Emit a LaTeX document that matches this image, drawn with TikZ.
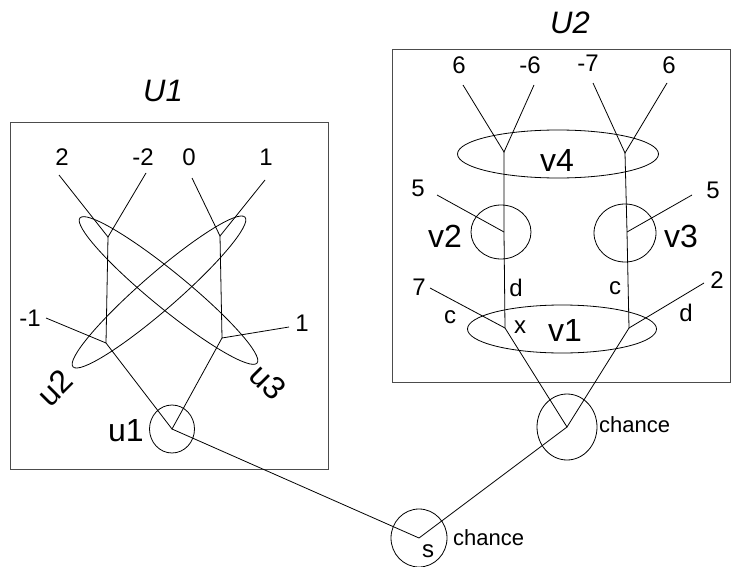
\documentclass[tikz,border=0pt]{standalone}
\usepackage{fontspec}
\setmainfont{Liberation Sans}
\usetikzlibrary{shapes.geometric}
\begin{document}
\begin{tikzpicture}[x=1pt,y=-1pt,
  ln/.style={line width=0.8pt},
  box/.style={draw=black!70, line width=1.2pt, inner sep=0pt},
  ell/.style={draw, ellipse, inner sep=0pt, line width=0.8pt},
  num/.style={font=\fontsize{24}{24}\selectfont, inner sep=0pt},
  big/.style={font=\fontsize{32}{32}\selectfont, inner sep=0pt},
  ttl/.style={font=\fontsize{31}{31}\selectfont\itshape, inner sep=0pt},
  chn/.style={font=\fontsize{22}{22}\selectfont, inner sep=0pt, anchor=west},
]
\useasboundingbox (0,0) rectangle (733,567);

% ---------- U1 ----------
\node[box, minimum width=318pt, minimum height=347pt, anchor=north west] (b1) at (10,122) {};
\node[ttl] (U1) at (163,91) {U1};

\node[num] (l2) at (62,157) {2};   \coordinate (p2) at (59,175);
\node[num] (lm2) at (143,157) {-2}; \coordinate (pm2) at (146,173);
\node[num] (l0) at (189,157) {0};  \coordinate (p0) at (192,178);
\node[num] (l1) at (266,157) {1};  \coordinate (p1) at (265,180);
\node[num] (lm1) at (30,318) {-1}; \coordinate (pm1) at (46,318);
\node[num] (l1b) at (302,323) {1}; \coordinate (p1b) at (289,327);

\coordinate (A) at (108,237);
\coordinate (B) at (220,236);
\coordinate (C) at (106,343);
\coordinate (D) at (222,338);

\node[ell, minimum width=228pt, minimum height=36pt, rotate=41] (u2) at (159,292) {};
\node[ell, minimum width=229pt, minimum height=36pt, rotate=-39.3] (u3) at (168.5,290.5) {};
\node[ell, minimum width=45pt, minimum height=48pt] (u1) at (172,429) {};

\node[big, rotate=45] (u2l) at (55,388) {u2};
\node[big, rotate=-45] (u3l) at (268,382) {u3};
\node[big] (u1l) at (126,431) {u1};

\draw[ln] (p2) -- (A) -- (pm2);
\draw[ln] (p0) -- (B) -- (p1);
\draw[ln] (A) -- (C) -- (pm1);
\draw[ln] (B) -- (D) -- (p1b);
\draw[ln] (C) -- (u1.center) -- (D);

% ---------- U2 ----------
\node[box, minimum width=338pt, minimum height=333pt, anchor=north west] (b2) at (392,49) {};
\node[ttl] (U2) at (570,23) {U2};

\node[num] (k1) at (459,65) {6};  \coordinate (q1) at (463,85);
\node[num] (k2) at (530,65) {-6}; \coordinate (q2) at (534,85);
\node[num] (k3) at (588,63) {-7}; \coordinate (q3) at (593,83);
\node[num] (k4) at (669,65) {6};  \coordinate (q4) at (667,83);

\coordinate (E) at (504,152);
\coordinate (F) at (625,153);
\coordinate (H) at (504,232);
\coordinate (I) at (627,232);
\coordinate (G) at (505,328);
\coordinate (J) at (629,328);

\node[ell, minimum width=201pt, minimum height=48pt] (v4) at (558,154) {};
\node[big] (v4l) at (557,160) {v4};
\node[ell, minimum width=60pt, minimum height=54pt] (v2) at (501,232) {};
\node[big] (v2l) at (445,236) {v2};
\node[ell, minimum width=62pt, minimum height=58pt] (v3) at (625,233) {};
\node[big] (v3l) at (681,236) {v3};
\node[ell, minimum width=189pt, minimum height=48pt] (v1) at (562,329) {};
\node[big] (v1l) at (565,330) {v1};

\node[num] (k5) at (418,188) {5}; \coordinate (q5) at (437,195);
\node[num] (k6) at (713,190) {5}; \coordinate (q6) at (692,195);
\node[num] (k7) at (419,287) {7}; \coordinate (q7) at (430,288);
\node[num] (k8) at (717,280) {2}; \coordinate (q8) at (704,283);

\node[num] (xl) at (520,327) {x};
\node[num] (dl1) at (516,288) {d};
\node[num] (cl1) at (615,288) {c};
\node[num] (cl2) at (450,317) {c};
\node[num] (dl2) at (686,313) {d};

\draw[ln] (q1) -- (E) -- (q2);
\draw[ln] (q3) -- (F) -- (q4);
\draw[ln] (E) -- (H) -- (G);
\draw[ln] (F) -- (I) -- (J);
\draw[ln] (q5) -- (H);
\draw[ln] (q6) -- (I);
\draw[ln] (q7) -- (G);
\draw[ln] (q8) -- (J);

% ---------- chance nodes ----------
\node[ell, minimum width=60pt, minimum height=66pt] (c2) at (567,427) {};
\node[chn] (c2l) at (599,425) {chance};
\node[ell, minimum width=56pt, minimum height=58pt] (s) at (419,538) {};
\node[num] (sl) at (428,551) {s};
\node[chn] (sll) at (453,538) {chance};

\draw[ln] (G) -- (c2.center) -- (J);
\draw[ln] (u1.center) -- (s.center) -- (c2.center);
\end{tikzpicture}
\end{document}
